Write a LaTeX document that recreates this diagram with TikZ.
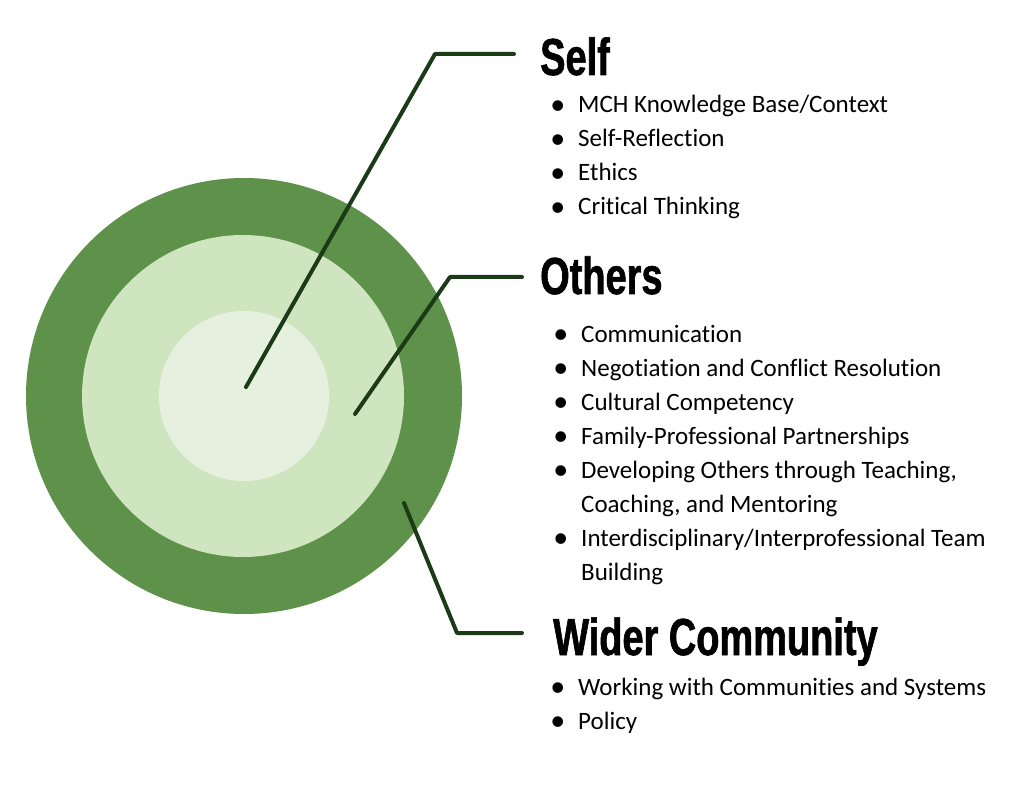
\documentclass[tikz,border=0pt]{standalone}
\usepackage{fontspec}
\setmainfont{Carlito}[Ligatures=NoCommon]
\newfontfamily\headfont{Liberation Sans}[FakeStretch=0.73,FakeBold=1.2]
\definecolor{ringout}{HTML}{5E9149}
\definecolor{ringmid}{HTML}{CFE5C0}
\definecolor{ringin}{HTML}{E6F0DF}
\definecolor{leader}{HTML}{1B3A17}
\newcommand{\bul}{\llap{\raisebox{-1.5pt}{\scalebox{1.2}{\textbullet}}\hspace{13pt}}}

\begin{document}
\begin{tikzpicture}[x=1pt,y=-1pt]
      \tikzstyle{heading}=[anchor=base west,inner sep=0pt,font=\headfont\bfseries\fontsize{52}{52}\selectfont]
      \tikzstyle{item}=[anchor=base west,inner sep=0pt,font=\fontsize{25}{30}\selectfont]
      \tikzstyle{leaderline}=[draw,leader,line width=4pt,line cap=round,line join=round]
      \useasboundingbox (0,0) rectangle (1024,791);
      \fill[ringout] (244,396) circle[radius=218pt];
      \fill[ringmid] (243,396) circle[radius=161pt];
      \fill[ringin] (244,396) circle[radius=85pt];
      \coordinate (selfdot) at (246,387);
      \coordinate (selfknee) at (435,54);
      \coordinate (selftip) at (514,54);
      \coordinate (othersdot) at (355,414);
      \coordinate (othersknee) at (450,277);
      \coordinate (otherstip) at (522,277);
      \coordinate (widerdot) at (404,503);
      \coordinate (widerknee) at (457,633);
      \coordinate (widertip) at (522,633);
      \path[leaderline] (selfdot) -- (selfknee) -- (selftip);
      \path[leaderline] (othersdot) -- (othersknee) -- (otherstip);
      \path[leaderline] (widerdot) -- (widerknee) -- (widertip);
      \node[heading] (self) at (540,75) {Self};
      \node[item] (self1) at (578,113) {\bul MCH Knowledge Base/Context};
      \node[item] (self2) at (578,147) {\bul Self-Reflection};
      \node[item] (self3) at (578,181) {\bul Ethics};
      \node[item] (self4) at (578,215) {\bul Critical Thinking};
      \node[heading] (others) at (540,294) {Others};
      \node[item] (others1) at (581,342) {\bul Communication};
      \node[item] (others2) at (581,376) {\bul Negotiation and Conflict Resolution};
      \node[item] (others3) at (581,410) {\bul Cultural Competency};
      \node[item] (others4) at (581,444) {\bul Family-Professional Partnerships};
      \node[item] (others5) at (581,478) {\bul Developing Others through Teaching,};
      \node[item] (others5b) at (581,512) {Coaching, and Mentoring};
      \node[item] (others6) at (581,546) {\bul Interdisciplinary/Interprofessional Team};
      \node[item] (others6b) at (581,580) {Building};
      \node[heading] (wider) at (553,655) {Wider Community};
      \node[item] (wider1) at (578,695) {\bul Working with Communities and Systems};
      \node[item] (wider2) at (578,729) {\bul Policy};
    \end{tikzpicture}
\end{document}
